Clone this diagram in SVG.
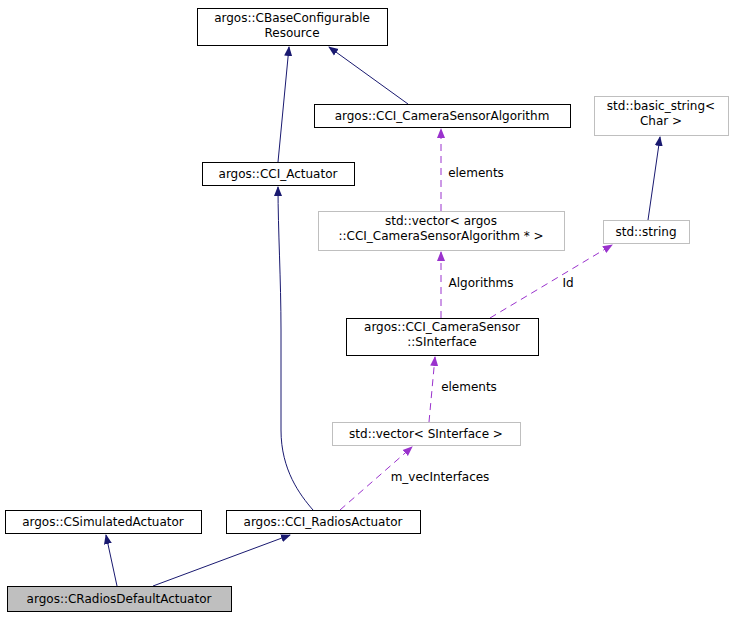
<svg xmlns="http://www.w3.org/2000/svg" width="738" height="617" viewBox="0 0 738 617">
<defs>
<style>
text{font-family:"DejaVu Sans",sans-serif;font-size:12px;fill:#000;text-anchor:middle}
.n{fill:#fff;stroke:#000}
.g{fill:#fff;stroke:#bfbfbf}
.e{fill:none;stroke:#191970}
.d{fill:none;stroke:#9a32cd;stroke-dasharray:7,5}
</style>
<marker id="an" markerWidth="10" markerHeight="10" refX="9" refY="5" orient="auto" markerUnits="userSpaceOnUse"><path d="M0,1 L10,5 L0,9 Z" fill="#191970"/></marker>
<marker id="ap" markerWidth="10" markerHeight="10" refX="9" refY="5" orient="auto" markerUnits="userSpaceOnUse"><path d="M0,1 L10,5 L0,9 Z" fill="#9a32cd"/></marker>
</defs>
<rect width="738" height="617" fill="#fff"/>
<g id="connectors">
<path class="e" d="M278,162 L289,47" marker-end="url(#an)"/>
<path class="e" d="M408,104 L329,47" marker-end="url(#an)"/>
<path class="e" d="M648,220 L660,137" marker-end="url(#an)"/>
<path class="e" d="M313,510 C300,495 281,470 281,430 L281,330 C281,280 278,230 278,187" marker-end="url(#an)"/>
<path class="e" d="M117,586 L106,535" marker-end="url(#an)"/>
<path class="e" d="M153,586 L290,535" marker-end="url(#an)"/>
<path class="d" d="M441,211 L441,129" marker-end="url(#ap)"/>
<path class="d" d="M441,318 L441,252" marker-end="url(#ap)"/>
<path class="d" d="M490,318 L612,245" marker-end="url(#ap)"/>
<path class="d" d="M429,422 L435,357" marker-end="url(#ap)"/>
<path class="d" d="M340,510 L412,447" marker-end="url(#ap)"/>
<text x="476" y="177">elements</text>
<text x="481" y="287">Algorithms</text>
<text x="568" y="287">Id</text>
<text x="469" y="391">elements</text>
<text x="440" y="481">m_vecInterfaces</text>
</g>
<g id="base"><rect class="n" x="197.5" y="8.5" width="190" height="37"/><text x="292" y="22">argos::CBaseConfigurable</text><text x="292" y="37">Resource</text></g>
<g id="camalg"><rect class="n" x="314.5" y="104.5" width="256" height="23"/><text x="442" y="120">argos::CCI_CameraSensorAlgorithm</text></g>
<g id="basicstring"><rect class="g" x="594.5" y="96.5" width="134" height="39"/><text x="661" y="110">std::basic_string&lt;</text><text x="661" y="125">Char &gt;</text></g>
<g id="actuator"><rect class="n" x="202.5" y="162.5" width="152" height="23"/><text x="278" y="178">argos::CCI_Actuator</text></g>
<g id="vecalg"><rect class="g" x="318.5" y="211.5" width="246" height="39"/><text x="441" y="225">std::vector&lt; argos</text><text x="441" y="240">::CCI_CameraSensorAlgorithm * &gt;</text></g>
<g id="string"><rect class="g" x="603.5" y="220.5" width="86" height="23"/><text x="646" y="236">std::string</text></g>
<g id="sinterface"><rect class="n" x="346.5" y="318.5" width="192" height="37"/><text x="442" y="331">argos::CCI_CameraSensor</text><text x="442" y="346">::SInterface</text></g>
<g id="vecsi"><rect class="g" x="332.5" y="422.5" width="188" height="23"/><text x="426" y="438">std::vector&lt; SInterface &gt;</text></g>
<g id="simact"><rect class="n" x="5.5" y="510.5" width="196" height="23"/><text x="103" y="526">argos::CSimulatedActuator</text></g>
<g id="radact"><rect class="n" x="226.5" y="510.5" width="194" height="23"/><text x="323" y="526">argos::CCI_RadiosActuator</text></g>
<g id="raddef"><rect x="7.5" y="586.5" width="224" height="25" fill="#bfbfbf" stroke="#000"/><text x="119" y="603">argos::CRadiosDefaultActuator</text></g>
</svg>
